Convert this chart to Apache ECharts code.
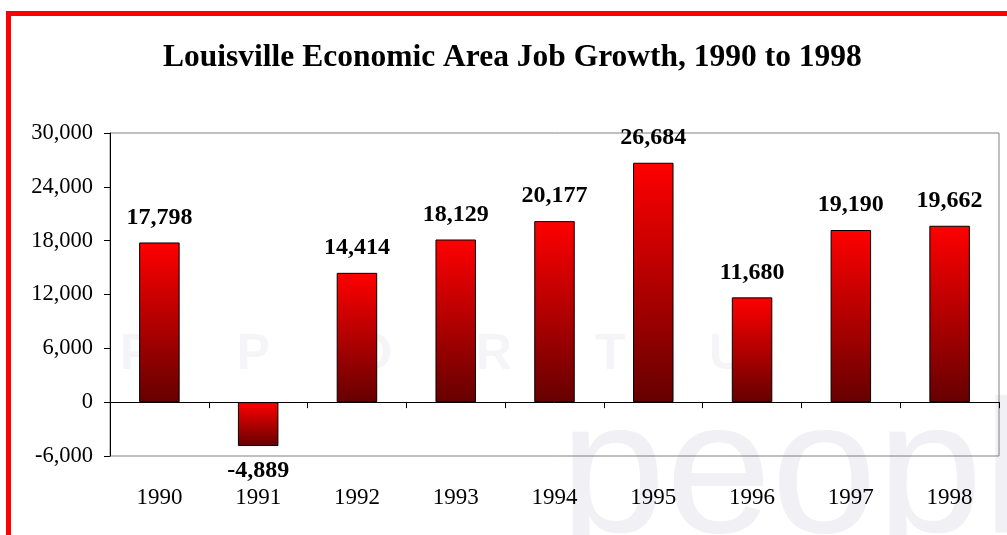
<!DOCTYPE html>
<html>
<head>
<meta charset="utf-8">
<script src="https://cdn.jsdelivr.net/npm/echarts@6/dist/echarts.min.js"></script>
<style>
html,body{margin:0;padding:0;background:#fff;}
#chart{width:1007px;height:535px;}
</style>
</head>
<body>
<div id="chart"></div>
<script>
const categories = ['1990','1991','1992','1993','1994','1995','1996','1997','1998'];
const jobGrowth = [17798, -4889, 14414, 18129, 20177, 26684, 11680, 19190, 19662];
const yTicks = { min: -6000, max: 30000, interval: 6000 };
const titleText = 'Louisville Economic Area Job Growth, 1990 to 1998';

const serif = '"Liberation Serif", "Times New Roman", serif';
const chart = echarts.init(document.getElementById('chart'));

const barGradient = new echarts.graphic.LinearGradient(0, 0, 0, 1, [
  { offset: 0, color: '#ff0000' },
  { offset: 1, color: '#660000' }
]);

chart.setOption({
  backgroundColor: '#ffffff',
  animation: false,
  title: {
    text: titleText,
    left: 158,
    top: 37,
    textStyle: { fontFamily: serif, fontWeight: 'bold', fontSize: 31.5, color: '#000' }
  },
  graphic: [
    { type: 'text', left: 120, top: 330, silent: true, z: -10,
      style: { text: 'P      P      O      R      T      U      N      I      T      Y', fontFamily: 'Liberation Sans', fontSize: 50, fill: '#f5f5f8', fontWeight: 'bold' } },
    { type: 'text', left: 560, top: 385, silent: true, z: -10,
      style: { text: 'peopl', fontFamily: 'Liberation Sans', fontSize: 190, fill: '#f0f0f5' } },
    { type: 'rect', left: 6, top: 11, shape: { width: 1001, height: 5 }, style: { fill: '#ff0000' }, z: 100 },
    { type: 'rect', left: 6, top: 11, shape: { width: 5, height: 524 }, style: { fill: '#ff0000' }, z: 100 }
  ],
  grid: {
    left: 110, right: 8, top: 133, bottom: 79,
    show: true, borderColor: '#808080', borderWidth: 1, backgroundColor: 'transparent'
  },
  xAxis: [
    {
      type: 'category',
      data: categories,
      position: 'bottom',
      axisLine: { show: false, onZero: false },
      axisTick: { show: false },
      axisLabel: { margin: 30, fontFamily: serif, fontSize: 23, color: '#000' }
    },
    {
      type: 'category',
      data: categories,
      position: 'top',
      axisLine: { show: true, onZero: true, lineStyle: { color: '#000', width: 1 } },
      axisTick: { show: true, inside: true, length: 6, lineStyle: { color: '#000' } },
      axisLabel: { show: false }
    }
  ],
  yAxis: {
    type: 'value',
    min: yTicks.min, max: yTicks.max, interval: yTicks.interval,
    axisLine: { show: true, lineStyle: { color: '#000', width: 1 } },
    axisTick: { show: true, length: 6, lineStyle: { color: '#000' } },
    splitLine: { show: false },
    axisLabel: {
      margin: 17, fontFamily: serif, fontSize: 22.5, color: '#000',
      formatter: v => v.toLocaleString('en-US')
    }
  },
  series: [{
    type: 'bar',
    xAxisIndex: 0,
    data: jobGrowth.map(v => ({
      value: v,
      label: { position: v < 0 ? 'bottom' : 'top' }
    })),
    barWidth: '41%',
    itemStyle: { color: barGradient, borderColor: '#000', borderWidth: 1 },
    label: {
      show: true,
      distance: 13,
      fontFamily: serif, fontWeight: 'bold', fontSize: 24, color: '#000',
      formatter: p => p.value.toLocaleString('en-US')
    },
    z: 2
  }]
});
</script>
</body>
</html>
